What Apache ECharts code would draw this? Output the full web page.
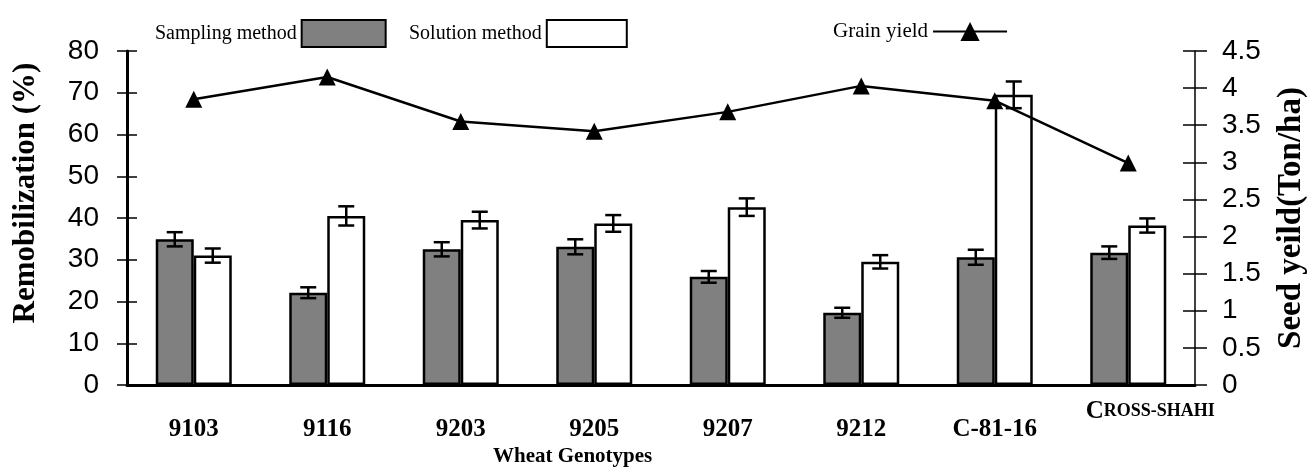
<!DOCTYPE html>
<html>
<head>
<meta charset="utf-8">
<script src="https://cdn.jsdelivr.net/npm/echarts@6/dist/echarts.min.js"></script>
<style>
  html, body { margin: 0; padding: 0; background: #fff; }
  #chart { width: 1313px; height: 475px; }
</style>
</head>
<body>
<div id="chart"></div>
<script>
// genotypes on the x axis
var genotypes = ['9103', '9116', '9203', '9205', '9207', '9212', 'C-81-16', 'Cross-shahi'];
// remobilization (%) and its error, two methods
var sampling = [34.9, 22.1, 32.5, 33.1, 25.9, 17.3, 30.6, 31.7];
var samplingErr = [1.7, 1.3, 1.7, 1.8, 1.4, 1.2, 1.8, 1.5];
var solution = [31.0, 40.5, 39.5, 38.7, 42.6, 29.5, 69.5, 38.2];
var solutionErr = [1.7, 2.3, 2.0, 2.0, 2.1, 1.6, 3.2, 1.7];
// grain yield (Ton/ha), right axis
var grainYield = [3.85, 4.15, 3.55, 3.42, 3.68, 4.03, 3.83, 2.99];

var BAR_W = 38;
var serif = 'Liberation Serif';
var sans = 'Liberation Sans';

function errData(vals, errs) {
  return vals.map(function (v, i) { return [i, v, errs[i]]; });
}

function errorBars(shift) {
  return function (params, api) {
    var i = api.value(0), v = api.value(1), e = api.value(2);
    var top = api.coord([i, v + e]);
    var bot = api.coord([i, v - e]);
    var x = top[0] + shift;
    var style = { stroke: '#000', lineWidth: 2.5 };
    return {
      type: 'group',
      children: [
        { type: 'line', shape: { x1: x, y1: top[1], x2: x, y2: bot[1] }, style: style },
        { type: 'line', shape: { x1: x - 8, y1: top[1], x2: x + 8, y2: top[1] }, style: style },
        { type: 'line', shape: { x1: x - 8, y1: bot[1], x2: x + 8, y2: bot[1] }, style: style }
      ]
    };
  };
}

// extra axis that only draws the inner half of the cross ticks
function innerTicks(max, interval, pos, len) {
  return {
    type: 'value', min: 0, max: max, interval: interval, position: pos,
    axisLine: { show: true, lineStyle: { color: '#000', width: 1, opacity: 0 } },
    axisTick: { show: true, inside: true, length: len, lineStyle: { color: '#000', width: 1.5 } },
    axisLabel: { show: false },
    splitLine: { show: false }
  };
}

var chart = echarts.init(document.getElementById('chart'));
chart.setOption({
  animation: false,
  title: {
    text: 'Wheat Genotypes',
    left: 488,
    top: 441,
    textStyle: { fontFamily: serif, fontWeight: 'bold', fontSize: 21, color: '#000' }
  },
  legend: [
    {
      data: [{ name: 'Sampling method', icon: 'rect' }], left: 150, top: 14, align: 'right',
      itemWidth: 84, itemHeight: 27,
      textStyle: { fontFamily: serif, fontSize: 20, color: '#000' }
    },
    {
      data: [{ name: 'Solution method', icon: 'rect' }], left: 404, top: 14, align: 'right',
      itemWidth: 80, itemHeight: 27,
      textStyle: { fontFamily: serif, fontSize: 20, color: '#000' }
    },
    {
      data: ['Grain yield'], left: 828, top: 16, align: 'right',
      itemWidth: 74, itemHeight: 24,
      textStyle: { fontFamily: serif, fontSize: 21, color: '#000' }
    }
  ],
  grid: { left: 127, right: 118, top: 51, bottom: 90, outerBoundsMode: 'none' },
  xAxis: {
    type: 'category',
    data: genotypes,
    axisLine: { lineStyle: { color: '#000', width: 3 } },
    axisTick: { length: 8, lineStyle: { color: '#000', width: 1.5 } },
    axisLabel: {
      interval: 0,
      margin: 14,
      color: '#000',
      formatter: function (v) {
        return v === 'Cross-shahi' ? '{c|C}{s|ROSS-SHAHI}' : '{n|' + v + '}';
      },
      rich: {
        n: { fontFamily: serif, fontWeight: 'bold', fontSize: 25, color: '#000', padding: [18, 0, 0, 0] },
        c: { fontFamily: serif, fontWeight: 'bold', fontSize: 25, color: '#000', padding: [0, 0, 0, 44] },
        s: { fontFamily: serif, fontWeight: 'bold', fontSize: 18, color: '#000' }
      }
    }
  },
  yAxis: [
    {
      type: 'value', min: 0, max: 80, interval: 10, position: 'left',
      name: 'Remobilization (%)', nameLocation: 'middle', nameGap: 86, nameRotate: 90,
      nameTextStyle: { fontFamily: serif, fontWeight: 'bold', fontSize: 31, color: '#000', padding: [0, 0, 0, 50] },
      axisLine: { show: true, lineStyle: { color: '#000', width: 3 } },
      axisTick: { show: true, length: 10, lineStyle: { color: '#000', width: 1.5 } },
      axisLabel: { margin: 28, fontFamily: sans, fontSize: 28, color: '#000' },
      splitLine: { show: false }
    },
    {
      type: 'value', min: 0, max: 4.5, interval: 0.5, position: 'right',
      name: 'Seed yeild(Ton/ha)', nameLocation: 'middle', nameGap: 80, nameRotate: 90,
      nameTextStyle: { fontFamily: serif, fontWeight: 'bold', fontSize: 33, color: '#000' },
      axisLine: { show: true, lineStyle: { color: '#000', width: 1.5 } },
      axisTick: { show: true, length: 12, lineStyle: { color: '#000', width: 1.5 } },
      axisLabel: { margin: 27, fontFamily: sans, fontSize: 28, color: '#000' },
      splitLine: { show: false }
    },
    innerTicks(80, 10, 'left', 10),
    innerTicks(4.5, 0.5, 'right', 12)
  ],
  series: [
    {
      name: 'Sampling method', type: 'bar', data: sampling,
      barWidth: BAR_W, barGap: '0%',
      itemStyle: { color: '#808080', borderColor: '#000', borderWidth: 2.5 }
    },
    {
      name: 'Solution method', type: 'bar', data: solution,
      barWidth: BAR_W, barGap: '0%',
      itemStyle: { color: '#fff', borderColor: '#000', borderWidth: 2.5 }
    },
    {
      type: 'custom', data: errData(sampling, samplingErr),
      renderItem: errorBars(-BAR_W / 2), z: 3
    },
    {
      type: 'custom', data: errData(solution, solutionErr),
      renderItem: errorBars(BAR_W / 2), z: 3
    },
    {
      name: 'Grain yield', type: 'line', yAxisIndex: 1, data: grainYield,
      symbol: 'triangle', symbolSize: 17,
      lineStyle: { color: '#000', width: 2.5 },
      itemStyle: { color: '#000' }, z: 5
    }
  ]
});
</script>
</body>
</html>
